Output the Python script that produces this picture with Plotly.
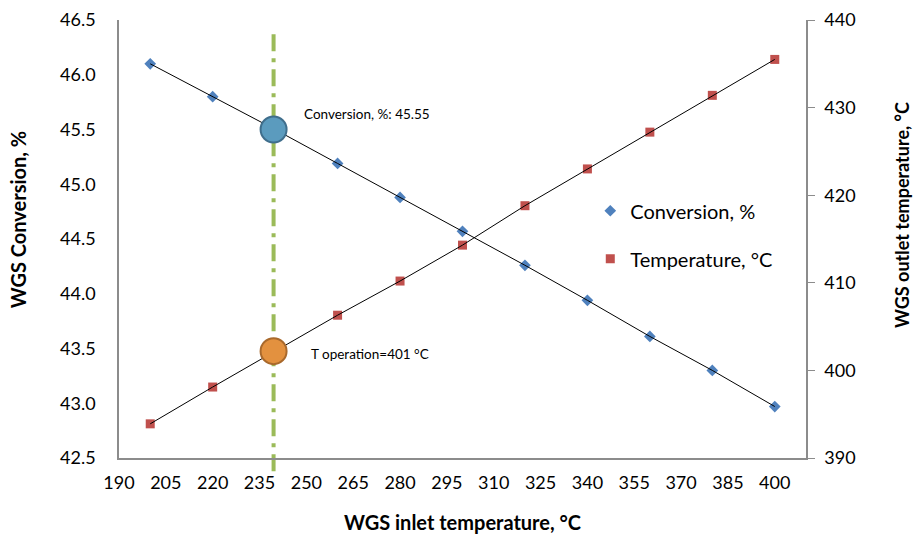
import plotly.graph_objects as go

inlet_temp = [200, 220, 240, 260, 280, 300, 320, 340, 360, 380, 400]
conversion = [46.10, 45.80, 45.50, 45.19, 44.88, 44.57, 44.26, 43.94, 43.61, 43.30, 42.97]
outlet_temp = [393.9, 398.1, 402.2, 406.3, 410.2, 414.3, 418.8, 423.0, 427.2, 431.4, 435.5]

op_inlet = 239.5
op_conversion = 45.50
op_outlet = 402.2
x_ticks = list(range(190, 401, 15))

FONT = "Lato"
fig = go.Figure()

# markers
fig.add_trace(go.Scatter(x=inlet_temp, y=conversion, mode="markers", name="Conversion, %",
                         marker=dict(symbol="diamond", size=9, color="#4F81BD"),
                         legendgroup="a"))
fig.add_trace(go.Scatter(x=inlet_temp, y=outlet_temp, mode="markers", name="Temperature, °C",
                         marker=dict(symbol="square", size=9, color="#C0504D"),
                         yaxis="y2", legendgroup="b"))
# connecting lines
fig.add_trace(go.Scatter(x=inlet_temp, y=conversion, mode="lines", showlegend=False,
                         line=dict(color="black", width=1)))
fig.add_trace(go.Scatter(x=inlet_temp, y=outlet_temp, mode="lines", showlegend=False,
                         line=dict(color="black", width=1), yaxis="y2"))

# operating point line
fig.add_shape(type="line", xref="x", yref="paper", x0=op_inlet, x1=op_inlet, y0=-0.03, y1=0.98,
              line=dict(color="#9BBB59", width=4, dash="17px,7px,4px,7px"), layer="below")

# highlight circles
fig.add_trace(go.Scatter(x=[op_inlet], y=[op_conversion], mode="markers", showlegend=False,
                         marker=dict(size=26, color="#5B9BBE", line=dict(color="#3F6E8C", width=2)),
                         cliponaxis=False))
fig.add_trace(go.Scatter(x=[op_inlet], y=[op_outlet], mode="markers", showlegend=False, yaxis="y2",
                         marker=dict(size=26, color="#E3913F", line=dict(color="#A9692C", width=2)),
                         cliponaxis=False))

fig.add_annotation(x=op_inlet, y=op_conversion, xref="x", yref="y", text="Conversion, %: 45.55",
                   showarrow=False, xanchor="left", xshift=28, yshift=16,
                   font=dict(size=13.5, color="black", family=FONT))
fig.add_annotation(x=op_inlet, y=op_outlet, xref="x", yref="y2", text="T operation=401 °C",
                   showarrow=False, xanchor="left", xshift=35, yshift=-3,
                   font=dict(size=13.5, color="black", family=FONT))

# axis titles (placed as annotations for exact positioning)
fig.add_annotation(x=-0.147, y=0.545, xref="paper", yref="paper", text="<b>WGS Conversion, %</b>",
                   textangle=-90, showarrow=False, xanchor="center", yanchor="middle",
                   font=dict(size=20, color="black", family=FONT))
fig.add_annotation(x=1.1397, y=0.555, xref="paper", yref="paper",
                   text="<b>WGS outlet temperature, °C</b>",
                   textangle=-90, showarrow=False, xanchor="center", yanchor="middle",
                   font=dict(size=18, color="black", family=FONT))

axis_color = "#8C8C8C"
fig.update_layout(
    width=915, height=534,
    margin=dict(l=119, r=109, t=20, b=76),
    paper_bgcolor="white", plot_bgcolor="white",
    font=dict(family=FONT, size=18, color="black"),
    showlegend=True,
    legend=dict(x=0.686, y=0.609, xanchor="left", yanchor="top", font=dict(size=20),
                tracegroupgap=19, bgcolor="rgba(0,0,0,0)"),
    xaxis=dict(range=[190, 410], tickvals=x_ticks, showgrid=False, zeroline=False,
               showline=True, linecolor=axis_color, linewidth=1.5, ticks="",
               ticklabelstandoff=8, automargin=False,
               title=dict(text="<b>WGS inlet temperature, °C</b>", font=dict(size=20), standoff=26)),
    yaxis=dict(range=[42.5, 46.5], dtick=0.5, tickformat=".1f", showgrid=False, zeroline=False,
               showline=True, linecolor=axis_color, linewidth=1.5, ticks="",
               ticklabelstandoff=18, automargin=False),
    yaxis2=dict(range=[390, 440], dtick=10, overlaying="y", side="right", showgrid=False,
                zeroline=False, showline=True, linecolor=axis_color, linewidth=1.5,
                ticks="outside", ticklen=7, tickcolor=axis_color, ticklabelstandoff=6,
                automargin=False),
)

fig.write_html("out.html")
